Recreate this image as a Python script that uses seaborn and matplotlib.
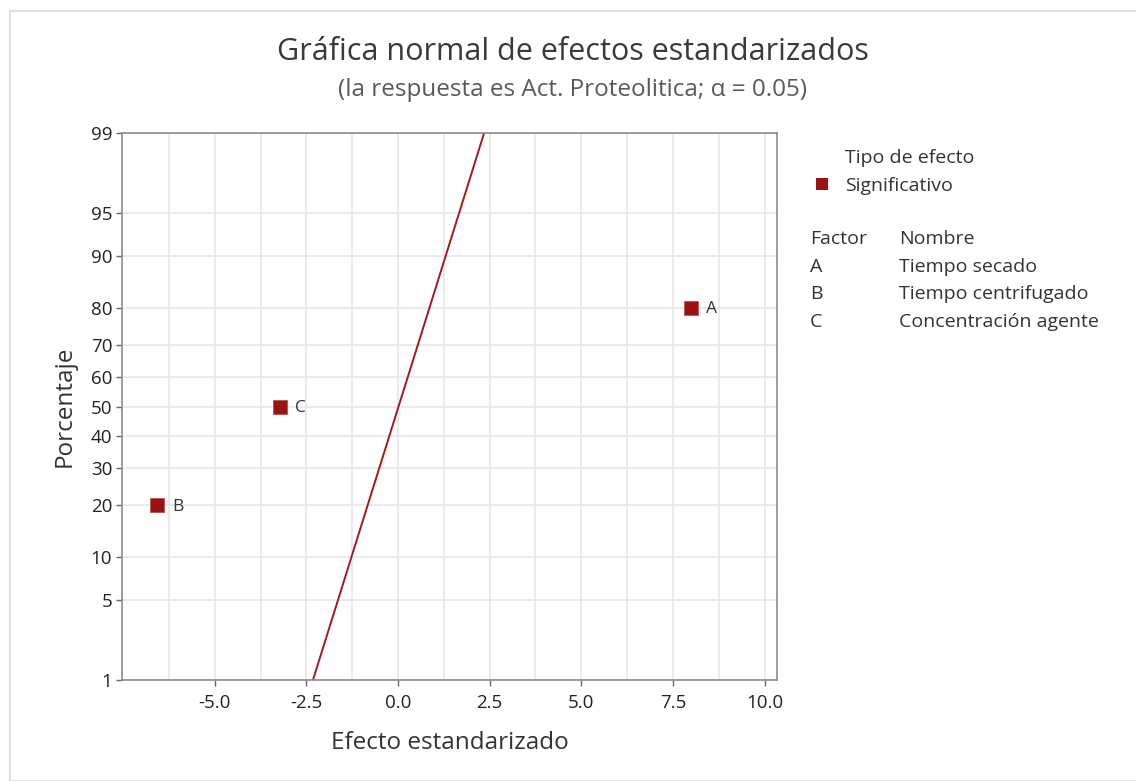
import matplotlib
matplotlib.use("Agg")
import matplotlib.pyplot as plt
import seaborn as sns
import pandas as pd
from statistics import NormalDist
from matplotlib.patches import Rectangle

# ---- data ----
factors = ["A", "B", "C"]
factor_names = ["Tiempo secado", "Tiempo centrifugado", "Concentración agente"]
effects = [7.99, -6.57, -3.22]
percents = [80, 20, 50]
line_percents = [1, 99]
line_effects = [-2.32, 2.35]
y_ticks = [1, 5, 10, 20, 30, 40, 50, 60, 70, 80, 90, 95, 99]
x_ticks = [-5.0, -2.5, 0.0, 2.5, 5.0, 7.5, 10.0]

nd = NormalDist()
z = lambda p: nd.inv_cdf(p / 100.0)

df = pd.DataFrame({"factor": factors, "effect": effects,
                   "z": [z(p) for p in percents], "tipo": "Significativo"})
line_df = pd.DataFrame({"effect": line_effects, "z": [z(p) for p in line_percents]})

sns.set_theme(style="white")
plt.rcParams["font.family"] = ["Open Sans", "DejaVu Sans"]

W, H = 1136, 781
fig = plt.figure(figsize=(W / 100, H / 100), dpi=100)
fig.patches.append(Rectangle((10 / W, 0), 1, 1 - 11 / H, transform=fig.transFigure,
                             fill=False, edgecolor="#d9d9d9", lw=1.2))
ax = fig.add_axes([122 / W, 1 - 680 / H, (777 - 122) / W, (680 - 133) / H])

red = "#9b1212"
txt = "#333333"
sns.lineplot(data=line_df, x="effect", y="z", ax=ax, color="#a31a1a", lw=1.4)
sns.scatterplot(data=df, x="effect", y="z", ax=ax, marker="s", s=100, color=red,
                edgecolor="#c05050", linewidth=0.6, legend=False, zorder=5)
for f, e, zz in zip(df["factor"], df["effect"], df["z"]):
    ax.annotate(f, (e, zz), xytext=(11, -1), textcoords="offset points",
                va="center", ha="left", fontsize=12.5, color=txt)

ax.set_xticks(x_ticks)
ax.set_xticklabels([f"{v:.1f}" for v in x_ticks])
ax.set_xticks([-6.25, -3.75, -1.25, 1.25, 3.75, 6.25, 8.75], minor=True)
ax.set_yticks([z(p) for p in y_ticks])
ax.set_yticklabels([str(p) for p in y_ticks])
ax.set_xlim(-7.53, 10.34)
ax.set_ylim(z(1), z(99))
ax.grid(True, which="both", color="#e6e6e6", lw=1.2)
ax.set_axisbelow(True)
ax.tick_params(axis="both", which="major", direction="out", length=4, width=1,
               color="#666666", labelsize=13.5, labelcolor="#222222", left=True, bottom=True)
ax.tick_params(axis="x", which="major", pad=6)
ax.tick_params(axis="y", which="major", pad=3)
ax.tick_params(axis="both", which="minor", length=0)
for s in ax.spines.values():
    s.set_color("#8c8c8c")
    s.set_linewidth(1.2)
ax.set_xlabel("Efecto estandarizado", fontsize=17.5, color=txt, labelpad=14)
ax.set_ylabel("Porcentaje", fontsize=17.5, color=txt, labelpad=10)

fig.text(573 / W, 1 - 52 / H, "Gráfica normal de efectos estandarizados", ha="center",
         va="center", fontsize=22, color="#3a3a3a")
fig.text(573 / W, 1 - 90 / H, "(la respuesta es Act. Proteolitica; α = 0.05)", ha="center",
         va="center", fontsize=17.5, color="#5a5a5a")

# legend area
fs = 14
fig.text(845 / W, 1 - 158 / H, "Tipo de efecto", va="center", fontsize=fs, color=txt)
fig.patches.append(Rectangle((816 / W, 1 - 190 / H), 12 / W, 12 / H, transform=fig.transFigure,
                             facecolor=red, edgecolor="none"))
fig.text(845 / W, 1 - 186 / H, "Significativo", va="center", fontsize=fs, color=txt)
fig.text(810 / W, 1 - 239 / H, "Factor", va="center", fontsize=fs, color=txt)
fig.text(899 / W, 1 - 239 / H, "Nombre", va="center", fontsize=fs, color=txt)
for i, (f, n) in enumerate(zip(factors, factor_names)):
    yy = 1 - (267 + 27.5 * i) / H
    fig.text(810 / W, yy, f, va="center", fontsize=fs, color=txt)
    fig.text(899 / W, yy, n, va="center", fontsize=fs, color=txt)

fig.savefig("out.png", dpi=100)
